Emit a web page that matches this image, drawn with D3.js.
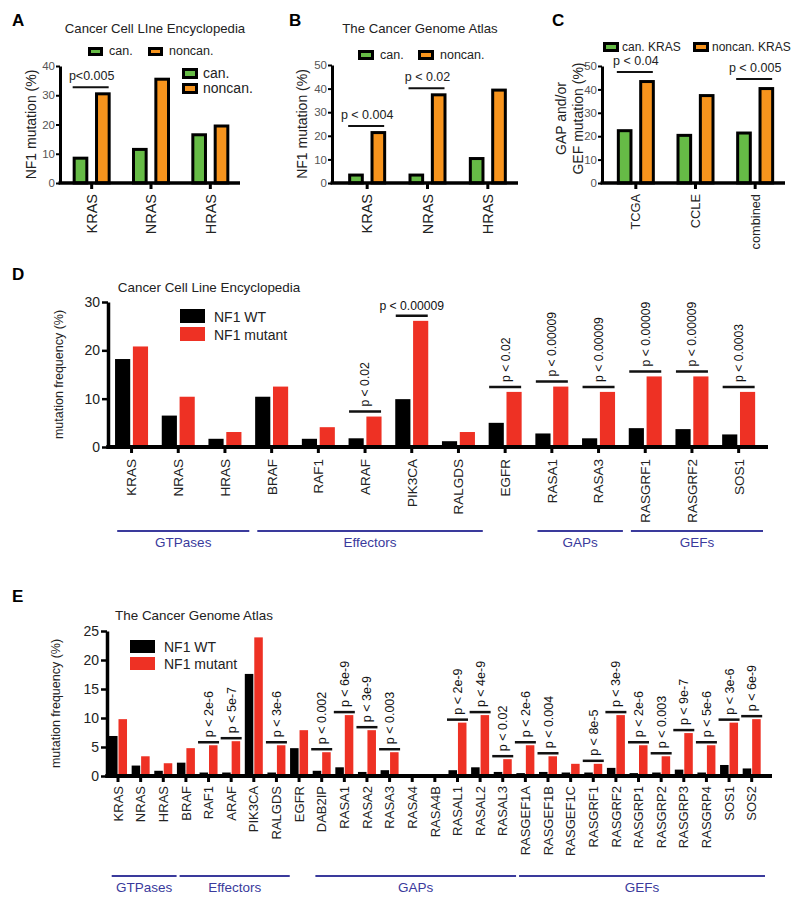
<!DOCTYPE html>
<html><head><meta charset="utf-8">
<script src="https://cdn.jsdelivr.net/npm/d3@7"></script>
<style>
body{margin:0;background:#fff;}
svg{display:block;}
</style></head><body>
<svg id="chart" width="800" height="905"></svg>
<script>
// ---------------- DATA ----------------
// Panel A: Cancer Cell Line Encyclopedia
const catsA = ["KRAS", "NRAS", "HRAS"];
const canA = [9, 12, 17];
const noncanA = [31, 36, 20];
const pCatsA = ["KRAS"];
const pTextA = ["p<0.005"];
const ticksA = [0, 10, 20, 30, 40];
// Panel B: The Cancer Genome Atlas
const catsB = ["KRAS", "NRAS", "HRAS"];
const canB = [4, 4, 11];
const noncanB = [22, 38, 40];
const pCatsB = ["KRAS", "NRAS"];
const pTextB = ["p < 0.004", "p < 0.02"];
const ticksB = [0, 10, 20, 30, 40, 50];
// Panel C
const catsC = ["TCGA", "CCLE", "combined"];
const canC = [23, 21, 22];
const noncanC = [44, 38, 41];
const pCatsC = ["TCGA", "combined"];
const pTextC = ["p < 0.04", "p < 0.005"];
const ticksC = [0, 10, 20, 30, 40, 50];
const legendAB = ["can.", "noncan."];
const legendC = ["can. KRAS", "noncan. KRAS"];

// Panel D: CCLE
const genesD = ["KRAS","NRAS","HRAS","BRAF","RAF1","ARAF","PIK3CA","RALGDS","EGFR","RASA1","RASA3","RASGRF1","RASGRF2","SOS1"];
const wtD  = [18.2, 6.5, 1.7, 10.4, 1.7, 1.8, 9.9, 1.2, 5.0, 2.8, 1.8, 3.9, 3.7, 2.6];
const mutD = [20.8, 10.4, 3.1, 12.5, 4.1, 6.3, 26.1, 3.1, 11.4, 12.5, 11.4, 14.6, 14.6, 11.4];
const pGenesD = ["ARAF","PIK3CA","EGFR","RASA1","RASA3","RASGRF1","RASGRF2","SOS1"];
const pTextD = ["p < 0.02","p < 0.00009","p < 0.02","p < 0.00009","p < 0.00009","p < 0.00009","p < 0.00009","p < 0.0003"];
const ticksD = [0, 10, 20, 30];
const groupNamesD = ["GTPases","Effectors","GAPs","GEFs"];
const groupStartD = ["KRAS","BRAF","RASA1","RASGRF1"];
const groupEndD = ["HRAS","RALGDS","RASA3","SOS1"];

// Panel E: TCGA
const genesE = ["KRAS","NRAS","HRAS","BRAF","RAF1","ARAF","PIK3CA","RALGDS","EGFR","DAB2IP","RASA1","RASA2","RASA3","RASA4","RASA4B","RASAL1","RASAL2","RASAL3","RASGEF1A","RASGEF1B","RASGEF1C","RASGRF1","RASGRF2","RASGRP1","RASGRP2","RASGRP3","RASGRP4","SOS1","SOS2"];
const wtE  = [6.9, 1.8, 0.9, 2.3, 0.6, 0.6, 17.6, 0.6, 4.8, 0.9, 1.5, 0.7, 1.0, 0, 0, 1.0, 1.5, 0.7, 0.5, 0.7, 0.6, 0.6, 1.4, 0.5, 0.6, 1.1, 0.6, 1.9, 1.3];
const mutE = [9.8, 3.4, 2.2, 4.8, 5.3, 6.0, 23.9, 5.3, 7.9, 4.1, 10.5, 7.9, 4.1, 0, 0, 9.2, 10.5, 2.9, 5.3, 3.4, 2.1, 2.1, 10.5, 5.3, 3.4, 7.4, 5.3, 9.2, 9.8];
const pGenesE = ["RAF1","ARAF","RALGDS","DAB2IP","RASA1","RASA2","RASA3","RASAL1","RASAL2","RASAL3","RASGEF1A","RASGEF1B","RASGRF1","RASGRF2","RASGRP1","RASGRP2","RASGRP3","RASGRP4","SOS1","SOS2"];
const pTextE = ["p < 2e-6","p < 5e-7","p < 3e-6","p < 0.002","p < 6e-9","p < 3e-9","p < 0.003","p < 2e-9","p < 4e-9","p < 0.02","p < 2e-6","p < 0.004","p < 8e-5","p < 3e-9","p < 2e-6","p < 0.003","p < 9e-7","p < 5e-6","p < 3e-6","p < 6e-9"];
const ticksE = [0, 5, 10, 15, 20, 25];
const groupNamesE = ["GTPases","Effectors","GAPs","GEFs"];
const groupStartE = ["KRAS","BRAF","DAB2IP","RASGEF1A"];
const groupEndE = ["HRAS","RALGDS","RASAL3","SOS2"];
const legendDE = ["NF1 WT", "NF1 mutant"];

// ---------------- DRAWING ----------------
const FONT = 'Arial, "Liberation Sans", Helvetica, sans-serif';
const GREEN = "#66bb46", ORANGE = "#f7941d", RED = "#ee3124", BLUE = "#3a3a9c";
const svg = d3.select("#chart").attr("font-family", FONT);

function txt(g, x, y, s, size, opts = {}) {
  const t = g.append("text").attr("x", x).attr("y", y).text(s)
    .attr("font-size", size).attr("fill", opts.fill || "#111")
    .attr("text-anchor", opts.anchor || "start");
  if (opts.bold) t.attr("font-weight", "bold");
  if (opts.rotate) t.attr("transform", `rotate(-90,${x},${y})`);
  return t;
}

function smallPanel(cfg) {
  const g = svg.append("g");
  const y = d3.scaleLinear().domain([0, cfg.yMax]).range([183, cfg.yTop]);
  const x = d3.scaleBand().domain(cfg.cats).range([cfg.bandL, cfg.bandR]);
  const inner = d3.scaleBand().domain(["can", "noncan"]).range([-19, 19]).paddingInner(0.3);
  const rows = cfg.cats.flatMap((c, i) => [{c, k: "can", v: cfg.can[i]}, {c, k: "noncan", v: cfg.noncan[i]}]);
  g.selectAll("rect.bar").data(rows).join("rect").attr("class", "bar")
    .attr("x", d => x(d.c) + x.bandwidth() / 2 + inner(d.k) + 1.5)
    .attr("width", inner.bandwidth() - 3)
    .attr("y", d => y(d.v) + 1.5)
    .attr("height", d => Math.max(0, y(0) - y(d.v) - 1.5))
    .attr("fill", d => d.k === "can" ? GREEN : ORANGE)
    .attr("stroke", "#000").attr("stroke-width", 3);
  // y axis
  const ya = g.append("g").attr("transform", `translate(${cfg.axisX},0)`)
    .call(d3.axisLeft(y).tickValues(cfg.ticks).tickSize(4).tickSizeOuter(0));
  ya.attr("font-family", FONT);
  ya.select(".domain").attr("stroke-width", 3);
  ya.selectAll(".tick line").attr("stroke-width", 2);
  ya.selectAll(".tick text").attr("font-size", 11.5).attr("fill", "#555").attr("x", -5);
  // x axis
  const xa = g.append("g").attr("transform", `translate(0,183)`)
    .call(d3.axisBottom(x).tickSize(6).tickSizeOuter(0));
  xa.attr("font-family", FONT);
  xa.select(".domain").remove();
  xa.selectAll(".tick line").attr("stroke-width", 3);
  xa.selectAll(".tick text").attr("transform", "rotate(-90)").attr("x", -11).attr("y", 0)
    .attr("dy", "0.36em").style("text-anchor", "end").attr("font-size", cfg.catFont).attr("fill", "#222");
  g.append("line").attr("x1", cfg.axisX - 1.5).attr("x2", cfg.bandR).attr("y1", 183).attr("y2", 183)
    .attr("stroke", "#000").attr("stroke-width", 3.5);
  // p-values
  cfg.pCats.forEach((c, i) => {
    const idx = cfg.cats.indexOf(c);
    const top = Math.max(cfg.can[idx], cfg.noncan[idx]);
    const cx = x(c) + x.bandwidth() / 2;
    const ly = y(top) - cfg.gap;
    g.append("line").attr("x1", cx - 19).attr("x2", cx + 17).attr("y1", ly).attr("y2", ly)
      .attr("stroke", "#111").attr("stroke-width", 2);
    txt(g, cx, ly - 7, cfg.pText[i], 12.5, {anchor: "middle", fill: "#222"});
  });
  // y label
  cfg.yLabel.forEach((s, i) => txt(g, cfg.yLabelX[i], (183 + cfg.yTop) / 2 - 6 + (cfg.yLabel.length > 1 ? 0 : 6), s, 14, {anchor: "middle", rotate: true, fill: "#222"}));
  // letter & title
  txt(g, cfg.letterX, 26, cfg.letter, 17, {bold: true, fill: "#000"});
  if (cfg.title) txt(g, cfg.titleX, 33, cfg.title, 13.2, {anchor: "middle", fill: "#222"});
  // legends
  cfg.legends.forEach(L => {
    L.labels.forEach((s, i) => {
      const bx = L.x[i], by = L.y[i];
      g.append("rect").attr("x", bx + 1.5).attr("y", by + 1.5).attr("width", L.w - 3).attr("height", L.h - 3)
        .attr("fill", i === 0 ? GREEN : ORANGE).attr("stroke", "#000").attr("stroke-width", 3);
      txt(g, bx + L.w + L.tgap, by + L.h - 1, s, L.size, {fill: "#222"});
    });
  });
}

smallPanel({cats: catsA, can: canA, noncan: noncanA, yMax: 40, yTop: 66, ticks: ticksA,
  axisX: 60, bandL: 62, bandR: 240, catFont: 14.5, pCats: pCatsA, pText: pTextA, gap: 5,
  yLabel: ["NF1 mutation (%)"], yLabelX: [36], letter: "A", letterX: 12,
  title: "Cancer Cell LIne Encyclopedia", titleX: 155,
  legends: [
    {labels: legendAB, x: [88, 148], y: [47, 47], w: 15, h: 9, tgap: 6, size: 12.5},
    {labels: legendAB, x: [182, 182], y: [68, 83], w: 16, h: 11, tgap: 5, size: 14}
  ]});
smallPanel({cats: catsB, can: canB, noncan: noncanB, yMax: 50, yTop: 65, ticks: ticksB,
  axisX: 332, bandL: 337, bandR: 518, catFont: 14.5, pCats: pCatsB, pText: pTextB, gap: 5,
  yLabel: ["NF1 mutation (%)"], yLabelX: [307], letter: "B", letterX: 289,
  title: "The Cancer Genome Atlas", titleX: 420,
  legends: [{labels: legendAB, x: [358, 418], y: [50, 50], w: 16, h: 10, tgap: 6, size: 12.5}]});
smallPanel({cats: catsC, can: canC, noncan: noncanC, yMax: 50, yTop: 66, ticks: ticksC,
  axisX: 602, bandL: 606, bandR: 785, catFont: 12.8, pCats: pCatsC, pText: pTextC, gap: 8,
  yLabel: ["GAP and/or", "GEF mutation (%)"], yLabelX: [566, 583], letter: "C", letterX: 552,
  title: null,
  legends: [{labels: legendC, x: [603, 693], y: [42, 42], w: 16, h: 10, tgap: 3, size: 12}]});

function bigPanel(cfg) {
  const g = svg.append("g");
  const y = d3.scaleLinear().domain([0, cfg.yMax]).range([cfg.y0, cfg.yTop]);
  const x = d3.scaleBand().domain(cfg.genes).range([cfg.bandL, cfg.bandR]);
  const inner = d3.scaleBand().domain(["wt", "mut"]).range([-cfg.half, cfg.half]).paddingInner(cfg.pad);
  const rows = cfg.genes.flatMap((gn, i) => [{gn, k: "wt", v: cfg.wt[i]}, {gn, k: "mut", v: cfg.mut[i]}]);
  g.selectAll("rect.bar").data(rows).join("rect").attr("class", "bar")
    .attr("x", d => x(d.gn) + x.bandwidth() / 2 + inner(d.k))
    .attr("width", inner.bandwidth())
    .attr("y", d => y(d.v)).attr("height", d => y(0) - y(d.v))
    .attr("fill", d => d.k === "wt" ? "#000" : RED);
  const ya = g.append("g").attr("transform", `translate(${cfg.axisX},0)`)
    .call(d3.axisLeft(y).tickValues(cfg.ticks).tickSize(6).tickSizeOuter(0));
  ya.attr("font-family", FONT);
  ya.select(".domain").attr("stroke-width", 3.5);
  ya.selectAll(".tick line").attr("stroke-width", 2.5);
  ya.selectAll(".tick text").attr("font-size", cfg.tickFont).attr("fill", "#222").attr("x", -8);
  const xa = g.append("g").attr("transform", `translate(0,${cfg.y0})`)
    .call(d3.axisBottom(x).tickSize(6).tickSizeOuter(0));
  xa.attr("font-family", FONT);
  xa.select(".domain").remove();
  xa.selectAll(".tick line").attr("stroke-width", 3);
  xa.selectAll(".tick text").attr("transform", "rotate(-90)").attr("x", -cfg.labOff).attr("y", 0)
    .attr("dy", "0.36em").style("text-anchor", "end").attr("font-size", cfg.catFont).attr("fill", "#222");
  g.append("line").attr("x1", cfg.axisX - 1.75).attr("x2", cfg.axisEnd).attr("y1", cfg.y0).attr("y2", cfg.y0)
    .attr("stroke", "#000").attr("stroke-width", 4);
  // p-values
  cfg.pGenes.forEach((gn, i) => {
    const idx = cfg.genes.indexOf(gn);
    const top = Math.max(cfg.wt[idx], cfg.mut[idx]);
    const cx = x(gn) + x.bandwidth() / 2;
    const ly = y(top) - cfg.gap;
    g.append("line").attr("x1", cx - cfg.bh).attr("x2", cx + cfg.bh).attr("y1", ly).attr("y2", ly)
      .attr("stroke", "#111").attr("stroke-width", 2.5);
    if (top > 0.8 * cfg.yMax) {
      txt(g, cx, ly - 6, cfg.pText[i], cfg.pFont, {anchor: "middle", fill: "#111"});
    } else {
      g.append("text").attr("transform", `translate(${cx},${ly - 5}) rotate(-90)`)
        .attr("dy", "0.36em").attr("font-size", cfg.pFont).attr("fill", "#111").text(cfg.pText[i]);
    }
  });
  // groups
  cfg.groupNames.forEach((nm, i) => {
    const x1 = x(cfg.groupStart[i]) + cfg.gIn[0];
    const x2 = x(cfg.groupEnd[i]) + x.bandwidth() - cfg.gIn[1];
    g.append("line").attr("x1", x1).attr("x2", x2).attr("y1", cfg.gLineY).attr("y2", cfg.gLineY)
      .attr("stroke", BLUE).attr("stroke-width", 2);
    txt(g, (x1 + x2) / 2, cfg.gTextY, nm, 13.5, {anchor: "middle", fill: BLUE});
  });
  // y label, letter, title
  txt(g, cfg.yLabelX, (cfg.y0 + cfg.yTop) / 2, "mutation frequency (%)", 12.5, {anchor: "middle", rotate: true, fill: "#222"});
  txt(g, 12, cfg.letterY, cfg.letter, 17, {bold: true, fill: "#000"});
  txt(g, cfg.titleX, cfg.titleY, cfg.title, 13.4, {anchor: "middle", fill: "#222"});
  // legend
  legendDE.forEach((s, i) => {
    g.append("rect").attr("x", cfg.legX).attr("y", cfg.legY[i]).attr("width", cfg.legW).attr("height", cfg.legH)
      .attr("fill", i === 0 ? "#000" : RED);
    txt(g, cfg.legX + cfg.legW + 9, cfg.legY[i] + cfg.legH - 1, s, 14, {fill: "#222"});
  });
}

bigPanel({genes: genesD, wt: wtD, mut: mutD, yMax: 30, ticks: ticksD, y0: 447, yTop: 302,
  axisX: 108, bandL: 108.2, bandR: 762, axisEnd: 768, half: 16.5, pad: 0.15,
  tickFont: 14, catFont: 13.5, labOff: 12, pGenes: pGenesD, pText: pTextD, gap: 5, bh: 16, pFont: 12.2,
  groupNames: groupNamesD, groupStart: groupStartD, groupEnd: groupEndD, gIn: [9, -1], gLineY: 531, gTextY: 547,
  yLabelX: 63, letter: "D", letterY: 280, title: "Cancer Cell Line Encyclopedia", titleX: 209, titleY: 292,
  legX: 180, legY: [309, 327], legW: 25, legH: 14});

bigPanel({genes: genesE, wt: wtE, mut: mutE, yMax: 25, ticks: ticksE, y0: 776, yTop: 631,
  axisX: 107, bandL: 106.7, bandR: 763, axisEnd: 772, half: 9, pad: 0.1,
  tickFont: 14, catFont: 13, labOff: 10, pGenes: pGenesE, pText: pTextE, gap: 3, bh: 10.5, pFont: 12.5,
  groupNames: groupNamesE, groupStart: groupStartE, groupEnd: groupEndE, gIn: [5, -2], gLineY: 876, gTextY: 892,
  yLabelX: 60, letter: "E", letterY: 602, title: "The Cancer Genome Atlas", titleX: 194, titleY: 620,
  legX: 130, legY: [640, 657], legW: 25, legH: 13});
</script>
</body></html>
